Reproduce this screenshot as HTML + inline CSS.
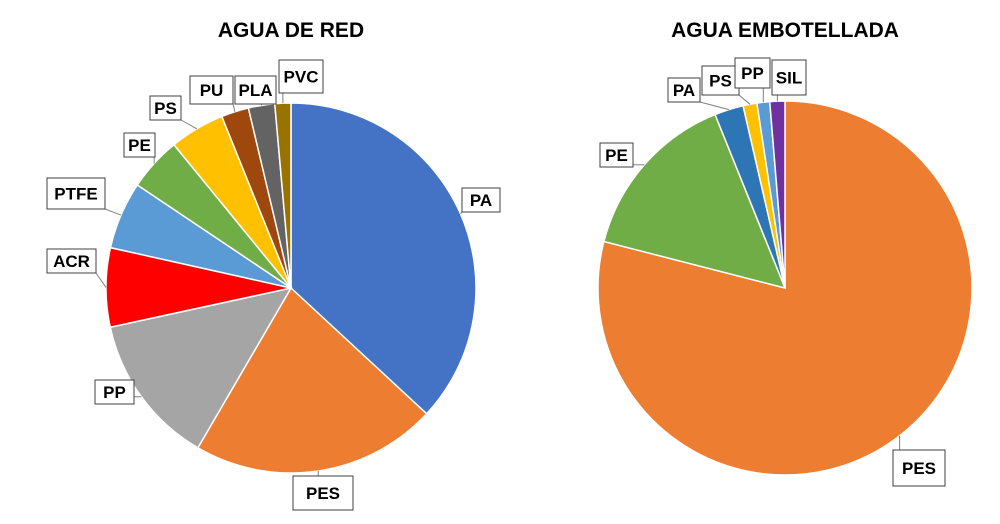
<!DOCTYPE html>
<html><head><meta charset="utf-8"><style>
body{margin:0;background:#fff;font-family:"Liberation Sans",Arial,sans-serif}
svg text{font-family:"Liberation Sans",Arial,sans-serif}
</style></head><body>
<svg id="c" width="1000" height="519" xmlns="http://www.w3.org/2000/svg">
<text x="291" y="37" text-anchor="middle" font-size="21" font-weight="bold">AGUA DE RED</text>
<text x="785" y="37" text-anchor="middle" font-size="21" font-weight="bold">AGUA EMBOTELLADA</text>
</svg>
<script>
const leftCats=["PA","PES","PP","ACR","PTFE","PE","PS","PU","PLA","PVC"];
const leftVals=[36.9,21.5,13.2,6.9,5.9,4.7,4.8,2.4,2.3,1.4];
const leftColors=["#4472c4","#ed7d31","#a5a5a5","#ff0000","#5b9bd5","#70ad47","#ffc000","#9e480e","#636363","#997300"];
const leftBoxes=[[462,188,38,24],[293,476,60,34],[95,380,39,24],[47,249,49,24],[47,178,58,31],[124,133,31,24],[150,96,31,24],[190,76,43,28],[235,76,41,28],[279,60,44,33]];
const rightCats=["PES","PE","PA","PS","PP","SIL"];
const rightVals=[79.0,14.9,2.5,1.2,1.1,1.3];
const rightColors=["#ed7d31","#70ad47","#2e75b6","#ffc000","#5b9bd5","#7030a0"];
const rightBoxes=[[893,450,52,36],[600,143,33,24],[668,78,32,24],[702,66,37,29],[735,58,35,30],[772,60,34,35]];
const svg=document.getElementById('c');const NS="http://www.w3.org/2000/svg";
function pie(cx,cy,r,cats,vals,cols,boxes,prefix){
  const tot=vals.reduce((a,b)=>a+b,0);let a0=0;
  const pt=(a,rr)=>[cx+rr*Math.sin(a),cy-rr*Math.cos(a)];
  cats.forEach((c,i)=>{
    const a1=a0+vals[i]/tot*2*Math.PI;
    const p0=pt(a0,r),p1=pt(a1,r);
    const path=document.createElementNS(NS,'path');
    path.setAttribute('d',`M${cx},${cy}L${p0[0]},${p0[1]}A${r},${r} 0 ${a1-a0>Math.PI?1:0} 1 ${p1[0]},${p1[1]}Z`);
    path.setAttribute('fill',cols[i]);path.setAttribute('stroke','#fff');path.setAttribute('stroke-width','1.5');
    
    
    svg.appendChild(path);
    const am=(a0+a1)/2,pm=pt(am,r);const b=boxes[i];
    const bx=Math.max(b[0],Math.min(b[0]+b[2],pm[0])),by=Math.max(b[1],Math.min(b[1]+b[3],pm[1]));
    const ln=document.createElementNS(NS,'line');
    ln.setAttribute('x1',pm[0]);ln.setAttribute('y1',pm[1]);ln.setAttribute('x2',bx);ln.setAttribute('y2',by);
    ln.setAttribute('stroke','#808080');ln.setAttribute('stroke-width','1');
    
    
    svg.appendChild(ln);
    a0=a1;
  });
  cats.forEach((c,i)=>{
    const b=boxes[i];
    const g=document.createElementNS(NS,'g');
    
    
    const rc=document.createElementNS(NS,'rect');
    rc.setAttribute('x',b[0]);rc.setAttribute('y',b[1]);rc.setAttribute('width',b[2]);rc.setAttribute('height',b[3]);
    rc.setAttribute('fill','#fff');rc.setAttribute('stroke','#404040');rc.setAttribute('stroke-width','1');
    const t=document.createElementNS(NS,'text');
    t.setAttribute('x',b[0]+b[2]/2);t.setAttribute('y',b[1]+b[3]/2+6);t.setAttribute('text-anchor','middle');
    t.setAttribute('font-size','17');t.setAttribute('font-weight','bold');t.textContent=c;
    g.appendChild(rc);g.appendChild(t);svg.appendChild(g);
  });
}
pie(291,288,185,leftCats,leftVals,leftColors,leftBoxes,'red');
pie(785,288,187,rightCats,rightVals,rightColors,rightBoxes,'embotellada');
</script>
</body></html>
